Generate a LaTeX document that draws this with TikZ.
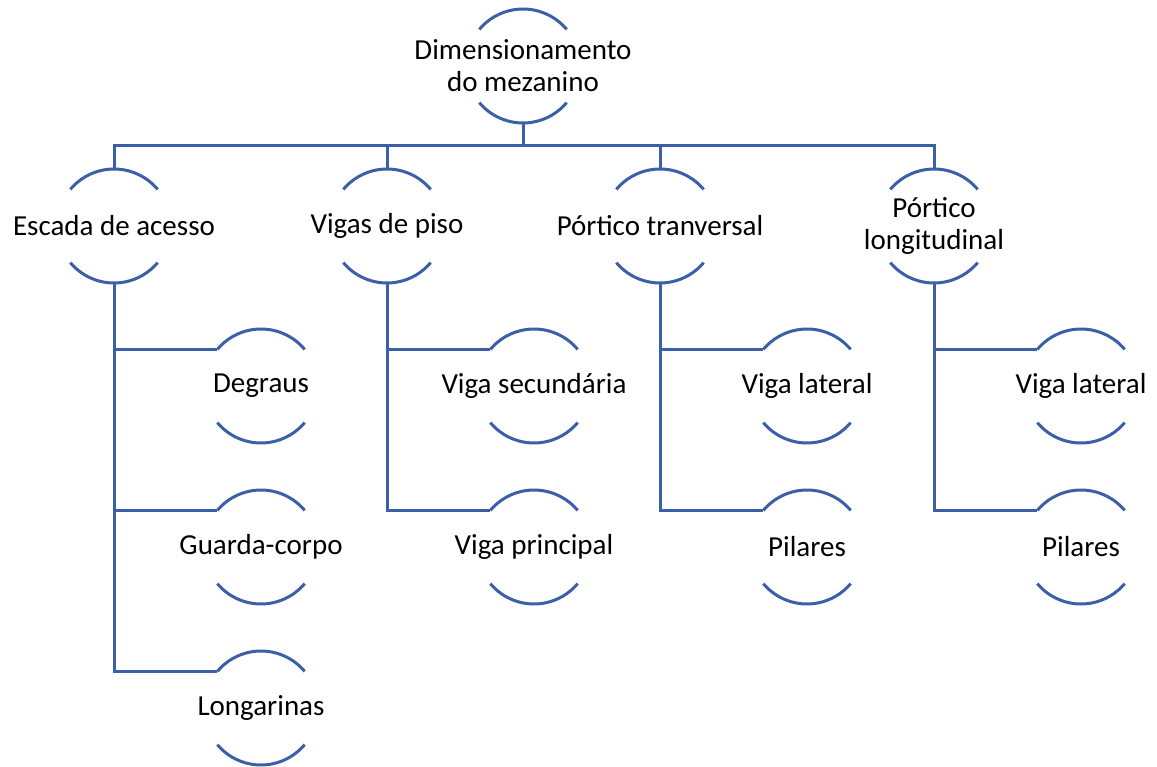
\documentclass[tikz,border=0pt]{standalone}
\usepackage{fontspec}
\setmainfont{Carlito}
\definecolor{arcblue}{RGB}{59,96,168}
\begin{document}
\begin{tikzpicture}[x=1pt,y=1pt,
  hnode/.style={circle,minimum size=114pt,inner sep=0pt,outer sep=0pt},
  lab/.style={font=\fontsize{29}{32}\selectfont,align=center,text=black},
  link/.style={draw=arcblue,line width=3pt},
  arcline/.style={draw=arcblue,line width=3pt}]
\useasboundingbox (0,0) rectangle (1157,-766);
% nodes
\node[hnode,label={[lab]center:Dimensionamento\\do mezanino}] (root) at (523,-66) {};
\node[hnode,label={[lab]center:Escada de acesso}] (esc) at (114,-226) {};
\node[hnode,label={[lab]center:Vigas de piso}] (vig) at (387,-226) {};
\node[hnode,label={[lab]center:Pórtico tranversal}] (ptr) at (660,-226) {};
\node[hnode,label={[lab]center:Pórtico\\longitudinal}] (plo) at (934,-226) {};
\node[hnode,label={[lab]center:Degraus}] (deg) at (261,-386) {};
\node[hnode,label={[lab]center:Guarda-corpo}] (gua) at (261,-547) {};
\node[hnode,label={[lab]center:Longarinas}] (lon) at (261,-708) {};
\node[hnode,label={[lab]center:Viga secundária}] (vsec) at (534,-386) {};
\node[hnode,label={[lab]center:Viga principal}] (vpri) at (534,-547) {};
\node[hnode,label={[lab]center:Viga lateral}] (vlat1) at (807,-386) {};
\node[hnode,label={[lab]center:Pilares}] (pil1) at (807,-547) {};
\node[hnode,label={[lab]center:Viga lateral}] (vlat2) at (1081,-386) {};
\node[hnode,label={[lab]center:Pilares}] (pil2) at (1081,-547) {};
% arcs
\foreach \n in {root,esc,vig,ptr,plo,deg,gua,lon,vsec,vpri,vlat1,pil1,vlat2,pil2}{
  \draw[arcline] (\n.40) arc[start angle=40,end angle=140,radius=57];
  \draw[arcline] (\n.220) arc[start angle=220,end angle=320,radius=57];
}
% connectors
\coordinate (bus) at (523,-145);
\foreach \c in {esc,vig,ptr,plo}{
  \draw[link] (root.south) -- (root.south |- bus) -| (\c.north);
}
\foreach \p/\c in {esc/deg,esc/gua,esc/lon,vig/vsec,vig/vpri,ptr/vlat1,ptr/pil1,plo/vlat2,plo/pil2}{
  \draw[link] (\p.south) |- (\c.140);
}
\end{tikzpicture}
\end{document}
